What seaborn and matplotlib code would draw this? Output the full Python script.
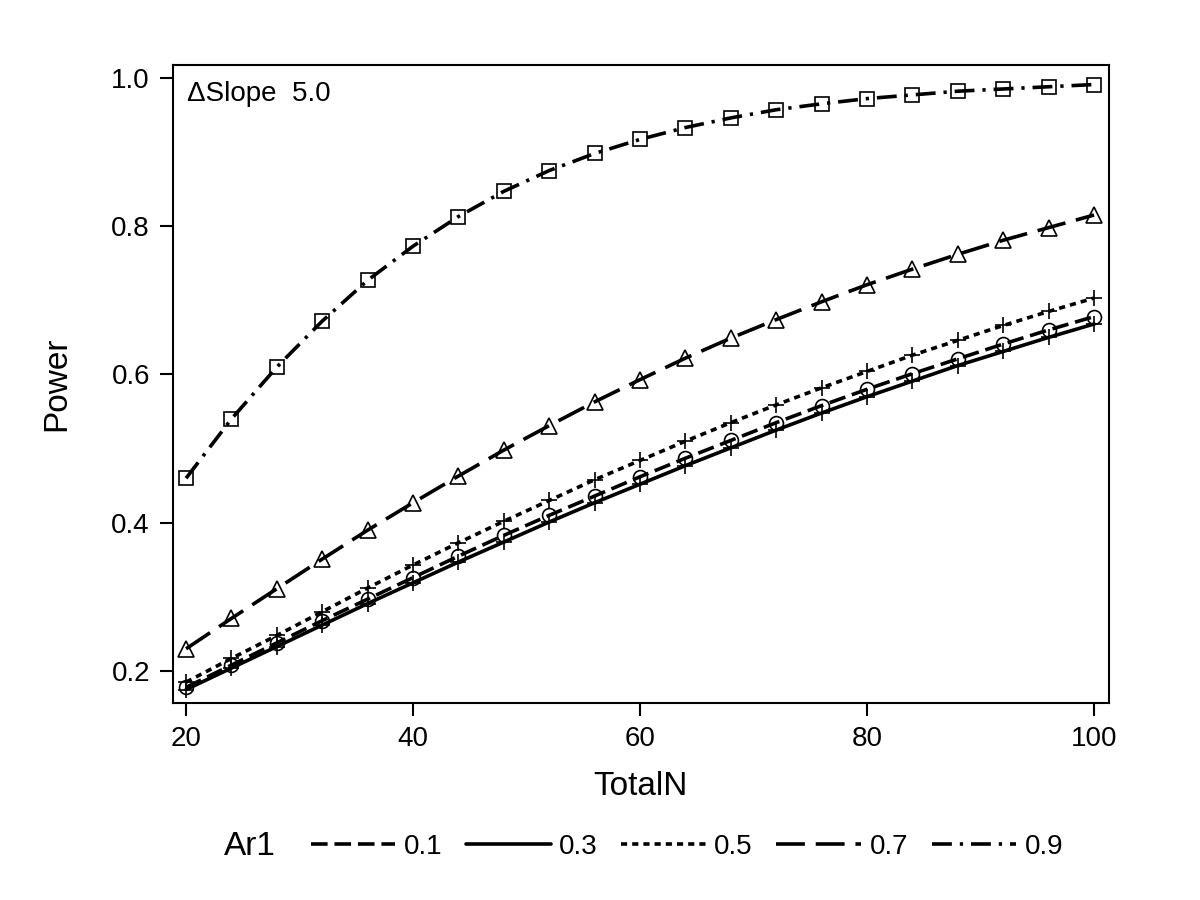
import matplotlib
matplotlib.use("Agg")
import matplotlib.pyplot as plt
from matplotlib.lines import Line2D
import seaborn as sns
import pandas as pd

total_n = [20, 24, 28, 32, 36, 40, 44, 48, 52, 56, 60, 64, 68, 72, 76, 80, 84, 88, 92, 96, 100]
ar1_levels = ["0.1", "0.3", "0.5", "0.7", "0.9"]
power_01 = [0.178, 0.208, 0.238, 0.268, 0.297, 0.326, 0.355, 0.383, 0.410, 0.436, 0.462,
            0.487, 0.511, 0.535, 0.558, 0.580, 0.601, 0.621, 0.641, 0.660, 0.678]
power_03 = [0.175, 0.204, 0.233, 0.262, 0.291, 0.319, 0.347, 0.374, 0.401, 0.427, 0.452,
            0.477, 0.501, 0.525, 0.548, 0.570, 0.591, 0.612, 0.631, 0.650, 0.668]
power_05 = [0.185, 0.217, 0.248, 0.280, 0.312, 0.343, 0.373, 0.402, 0.430, 0.458, 0.484,
            0.510, 0.535, 0.559, 0.582, 0.604, 0.626, 0.646, 0.666, 0.685, 0.703]
power_07 = [0.230, 0.271, 0.311, 0.351, 0.390, 0.427, 0.463, 0.498, 0.531, 0.563, 0.593,
            0.622, 0.649, 0.674, 0.698, 0.721, 0.742, 0.762, 0.781, 0.798, 0.815]
power_09 = [0.460, 0.540, 0.610, 0.672, 0.727, 0.773, 0.813, 0.847, 0.875, 0.898, 0.917,
            0.933, 0.946, 0.957, 0.965, 0.972, 0.977, 0.982, 0.985, 0.988, 0.991]
y_ticks = [0.2, 0.4, 0.6, 0.8, 1.0]
x_ticks = [20, 40, 60, 80, 100]

sns.set_style("ticks")
plt.rcParams["font.family"] = ["Liberation Sans", "DejaVu Sans"]
plt.rcParams.update({"text.color": "black", "axes.labelcolor": "black",
                     "xtick.color": "black", "ytick.color": "black",
                     "axes.edgecolor": "black"})

series = dict(zip(ar1_levels, [power_01, power_03, power_05, power_07, power_09]))
df = pd.concat([pd.DataFrame({"TotalN": total_n, "Power": v, "Ar1": k}) for k, v in series.items()],
               ignore_index=True)

LW = 2.6
dashes = {"0.1": (4.6, 1.9), "0.3": "", "0.5": (1.7, 1.4), "0.7": (8, 3), "0.9": (5.5, 2.2, 0.9, 2.2)}
markers = {"0.1": "o", "0.3": "+", "0.5": "+", "0.7": "^", "0.9": "s"}
msizes = {"0.1": 10, "0.3": 11, "0.5": 11, "0.7": 11, "0.9": 10}

fig = plt.figure(figsize=(12, 9), dpi=100)
ax = fig.add_axes([0.144, 0.219, 0.78, 0.709])

for lvl in ar1_levels:
    sub = df[df["Ar1"] == lvl]
    sns.lineplot(data=sub, x="TotalN", y="Power", ax=ax, color="black",
                 linewidth=LW, marker=markers[lvl], markersize=msizes[lvl],
                 markerfacecolor="none", markeredgecolor="black", markeredgewidth=1.2,
                 dashes=False, legend=False, errorbar=None)
    line = ax.get_lines()[-1]
    if dashes[lvl]:
        line.set_dashes(dashes[lvl])

ax.set_xlim(18.83, 101.3)
ax.set_ylim(0.157, 1.0176)
ax.set_xticks(x_ticks)
ax.set_yticks(y_ticks)
ax.set_yticklabels([f"{v:.1f}" for v in y_ticks])
ax.tick_params(axis="both", labelsize=20, length=9.5, width=1.5, color="black",
               direction="out", pad=7)
for s in ax.spines.values():
    s.set_linewidth(1.5)
    s.set_color("black")
ax.set_xlabel("TotalN", fontsize=24, labelpad=14)
ax.set_ylabel("Power", fontsize=24, labelpad=28)

ax.text(0.015, 0.975, "\u0394Slope  5.0", transform=ax.transAxes, fontsize=20,
        ha="left", va="top")

handles = []
for lvl in ar1_levels:
    h = Line2D([], [], color="black", linewidth=LW)
    if dashes[lvl]:
        h.set_dashes(dashes[lvl])
    handles.append(h)
fig.text(0.187, 0.059, "Ar1", fontsize=24, ha="left", va="center")
fig.legend(handles, ar1_levels, loc="center left", bbox_to_anchor=(0.238, 0.059), ncol=5,
           frameon=False, fontsize=20, handlelength=3.05, handletextpad=0.3, columnspacing=0.85)

fig.savefig("out.png", dpi=100)
